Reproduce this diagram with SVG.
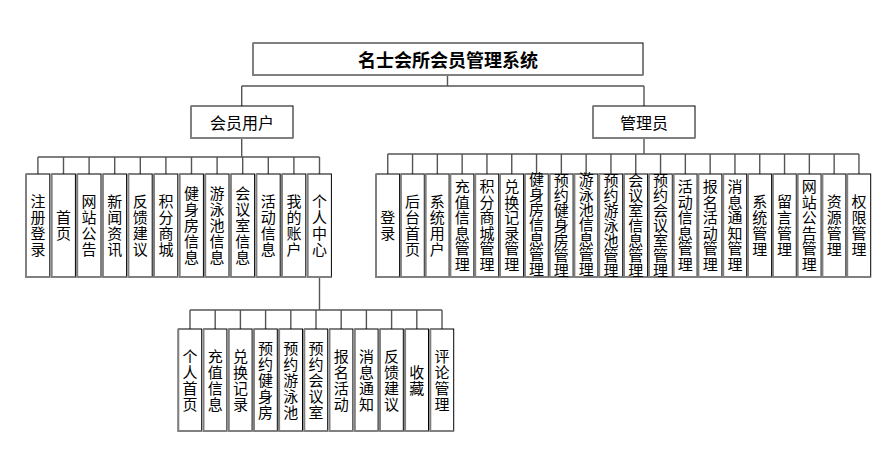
<svg xmlns="http://www.w3.org/2000/svg" width="885" height="474" viewBox="0 0 885 474">
<style>
.b{fill:#fff;stroke:#000;stroke-width:1}
.s{fill:none;stroke:#808080;stroke-width:2}
.c{fill:none;stroke:#555;stroke-width:1.4}
text{font-family:"Noto Sans CJK SC","Liberation Sans",sans-serif;fill:#000}
.v{font-size:15px;text-anchor:middle;writing-mode:vertical-rl;letter-spacing:1px}
.v7{letter-spacing:0}
.v6{letter-spacing:0.5px}
.t{font-size:18px;font-weight:bold;text-anchor:middle;dominant-baseline:central}
.m{font-size:16px;text-anchor:middle;dominant-baseline:central}
</style>
<rect width="885" height="474" fill="#fff"/>
<g id="connectors" class="c">
<path d="M447.5 75V86M241.7 86H644M241.7 86V106M644 86V106"/>
<path d="M241.7 138V157M37.9 157H319.5M37.9 157V174M63.5 157V174M89.1 157V174M114.7 157V174M140.3 157V174M165.9 157V174M191.5 157V174M217.1 157V174M242.7 157V174M268.3 157V174M293.9 157V174M319.5 157V174"/>
<path d="M644 138V154M387.75 154H858.95M387.75 154V174M412.55 154V174M437.35 154V174M462.15 154V174M486.95 154V174M511.75 154V174M536.55 154V174M561.35 154V174M586.15 154V174M610.95 154V174M635.75 154V174M660.55 154V174M685.35 154V174M710.15 154V174M734.95 154V174M759.75 154V174M784.55 154V174M809.35 154V174M834.15 154V174M858.95 154V174"/>
<path d="M319.5 277V310M190 310H442M190 310V329M215.2 310V329M240.4 310V329M265.6 310V329M290.8 310V329M316 310V329M341.2 310V329M366.4 310V329M391.6 310V329M416.8 310V329M442 310V329"/>
</g>
<g id="root"><rect class="b" x="253" y="43" width="390" height="32"/><path class="s" d="M253 43V75H643"/><text class="t" x="448" y="59">名士会所会员管理系统</text></g>
<g id="member"><rect class="b" x="191" y="106" width="102" height="32"/><path class="s" d="M191 106V138H293"/><text class="m" x="242" y="122">会员用户</text></g>
<g id="admin"><rect class="b" x="593" y="106" width="102" height="32"/><path class="s" d="M593 106V138H695"/><text class="m" x="644" y="122">管理员</text></g>

<g id="m1"><rect class="b" x="26" y="174" width="23.8" height="103"/><path class="s" d="M26 174V277H49.8"/><text class="v" x="37.9" y="225.5">注册登录</text></g>
<g id="m2"><rect class="b" x="51.6" y="174" width="23.8" height="103"/><path class="s" d="M51.6 174V277H75.4"/><text class="v" x="63.5" y="225.5">首页</text></g>
<g id="m3"><rect class="b" x="77.2" y="174" width="23.8" height="103"/><path class="s" d="M77.2 174V277H101"/><text class="v" x="89.1" y="225.5">网站公告</text></g>
<g id="m4"><rect class="b" x="102.8" y="174" width="23.8" height="103"/><path class="s" d="M102.8 174V277H126.6"/><text class="v" x="114.7" y="225.5">新闻资讯</text></g>
<g id="m5"><rect class="b" x="128.4" y="174" width="23.8" height="103"/><path class="s" d="M128.4 174V277H152.2"/><text class="v" x="140.3" y="225.5">反馈建议</text></g>
<g id="m6"><rect class="b" x="154" y="174" width="23.8" height="103"/><path class="s" d="M154 174V277H177.8"/><text class="v" x="165.9" y="225.5">积分商城</text></g>
<g id="m7"><rect class="b" x="179.6" y="174" width="23.8" height="103"/><path class="s" d="M179.6 174V277H203.4"/><text class="v" x="191.5" y="225.5">健身房信息</text></g>
<g id="m8"><rect class="b" x="205.2" y="174" width="23.8" height="103"/><path class="s" d="M205.2 174V277H229"/><text class="v" x="217.1" y="225.5">游泳池信息</text></g>
<g id="m9"><rect class="b" x="230.8" y="174" width="23.8" height="103"/><path class="s" d="M230.8 174V277H254.6"/><text class="v" x="242.7" y="225.5">会议室信息</text></g>
<g id="m10"><rect class="b" x="256.4" y="174" width="23.8" height="103"/><path class="s" d="M256.4 174V277H280.2"/><text class="v" x="268.3" y="225.5">活动信息</text></g>
<g id="m11"><rect class="b" x="282" y="174" width="23.8" height="103"/><path class="s" d="M282 174V277H305.8"/><text class="v" x="293.9" y="225.5">我的账户</text></g>
<g id="m12"><rect class="b" x="307.6" y="174" width="23.8" height="103"/><path class="s" d="M307.6 174V277H331.4"/><text class="v" x="319.5" y="225.5">个人中心</text></g>

<g id="a1"><rect class="b" x="376" y="174" width="23.5" height="103"/><path class="s" d="M376 174V277H399.5"/><text class="v" x="387.75" y="225.5">登录</text></g>
<g id="a2"><rect class="b" x="400.8" y="174" width="23.5" height="103"/><path class="s" d="M400.8 174V277H424.3"/><text class="v" x="412.55" y="225.5">后台首页</text></g>
<g id="a3"><rect class="b" x="425.6" y="174" width="23.5" height="103"/><path class="s" d="M425.6 174V277H449.1"/><text class="v" x="437.35" y="225.5">系统用户</text></g>
<g id="a4"><rect class="b" x="450.4" y="174" width="23.5" height="103"/><path class="s" d="M450.4 174V277H473.9"/><text class="v v6" x="462.15" y="225.5">充值信息管理</text></g>
<g id="a5"><rect class="b" x="475.2" y="174" width="23.5" height="103"/><path class="s" d="M475.2 174V277H498.7"/><text class="v v6" x="486.95" y="225.5">积分商城管理</text></g>
<g id="a6"><rect class="b" x="500" y="174" width="23.5" height="103"/><path class="s" d="M500 174V277H523.5"/><text class="v v6" x="511.75" y="225.5">兑换记录管理</text></g>
<g id="a7"><rect class="b" x="524.8" y="174" width="23.5" height="103"/><path class="s" d="M524.8 174V277H548.3"/><text class="v v7" x="536.55" y="224.5">健身房信息管理</text></g>
<g id="a8"><rect class="b" x="549.6" y="174" width="23.5" height="103"/><path class="s" d="M549.6 174V277H573.1"/><text class="v v7" x="561.35" y="225.5">预约健身房管理</text></g>
<g id="a9"><rect class="b" x="574.4" y="174" width="23.5" height="103"/><path class="s" d="M574.4 174V277H597.9"/><text class="v v7" x="586.15" y="224.5">游泳池信息管理</text></g>
<g id="a10"><rect class="b" x="599.2" y="174" width="23.5" height="103"/><path class="s" d="M599.2 174V277H622.7"/><text class="v v7" x="610.95" y="225.5">预约游泳池管理</text></g>
<g id="a11"><rect class="b" x="624" y="174" width="23.5" height="103"/><path class="s" d="M624 174V277H647.5"/><text class="v v7" x="635.75" y="225.5">会议室信息管理</text></g>
<g id="a12"><rect class="b" x="648.8" y="174" width="23.5" height="103"/><path class="s" d="M648.8 174V277H672.3"/><text class="v v7" x="660.55" y="225.5">预约会议室管理</text></g>
<g id="a13"><rect class="b" x="673.6" y="174" width="23.5" height="103"/><path class="s" d="M673.6 174V277H697.1"/><text class="v v6" x="685.35" y="225.5">活动信息管理</text></g>
<g id="a14"><rect class="b" x="698.4" y="174" width="23.5" height="103"/><path class="s" d="M698.4 174V277H721.9"/><text class="v v6" x="710.15" y="225.5">报名活动管理</text></g>
<g id="a15"><rect class="b" x="723.2" y="174" width="23.5" height="103"/><path class="s" d="M723.2 174V277H746.7"/><text class="v v6" x="734.95" y="225.5">消息通知管理</text></g>
<g id="a16"><rect class="b" x="748" y="174" width="23.5" height="103"/><path class="s" d="M748 174V277H771.5"/><text class="v" x="759.75" y="225.5">系统管理</text></g>
<g id="a17"><rect class="b" x="772.8" y="174" width="23.5" height="103"/><path class="s" d="M772.8 174V277H796.3"/><text class="v" x="784.55" y="225.5">留言管理</text></g>
<g id="a18"><rect class="b" x="797.6" y="174" width="23.5" height="103"/><path class="s" d="M797.6 174V277H821.1"/><text class="v v6" x="809.35" y="225.5">网站公告管理</text></g>
<g id="a19"><rect class="b" x="822.4" y="174" width="23.5" height="103"/><path class="s" d="M822.4 174V277H845.9"/><text class="v" x="834.15" y="225.5">资源管理</text></g>
<g id="a20"><rect class="b" x="847.2" y="174" width="23.5" height="103"/><path class="s" d="M847.2 174V277H870.7"/><text class="v" x="858.95" y="225.5">权限管理</text></g>

<g id="p1"><rect class="b" x="178.3" y="329" width="23.4" height="102"/><path class="s" d="M178.3 329V431H201.7"/><text class="v" x="190" y="380.5">个人首页</text></g>
<g id="p2"><rect class="b" x="203.5" y="329" width="23.4" height="102"/><path class="s" d="M203.5 329V431H226.9"/><text class="v" x="215.2" y="380.5">充值信息</text></g>
<g id="p3"><rect class="b" x="228.7" y="329" width="23.4" height="102"/><path class="s" d="M228.7 329V431H252.1"/><text class="v" x="240.4" y="380.5">兑换记录</text></g>
<g id="p4"><rect class="b" x="253.9" y="329" width="23.4" height="102"/><path class="s" d="M253.9 329V431H277.3"/><text class="v" x="265.6" y="380.5">预约健身房</text></g>
<g id="p5"><rect class="b" x="279.1" y="329" width="23.4" height="102"/><path class="s" d="M279.1 329V431H302.5"/><text class="v" x="290.8" y="380.5">预约游泳池</text></g>
<g id="p6"><rect class="b" x="304.3" y="329" width="23.4" height="102"/><path class="s" d="M304.3 329V431H327.7"/><text class="v" x="316" y="380.5">预约会议室</text></g>
<g id="p7"><rect class="b" x="329.5" y="329" width="23.4" height="102"/><path class="s" d="M329.5 329V431H352.9"/><text class="v" x="341.2" y="380.5">报名活动</text></g>
<g id="p8"><rect class="b" x="354.7" y="329" width="23.4" height="102"/><path class="s" d="M354.7 329V431H378.1"/><text class="v" x="366.4" y="380.5">消息通知</text></g>
<g id="p9"><rect class="b" x="379.9" y="329" width="23.4" height="102"/><path class="s" d="M379.9 329V431H403.3"/><text class="v" x="391.6" y="380.5">反馈建议</text></g>
<g id="p10"><rect class="b" x="405.1" y="329" width="23.4" height="102"/><path class="s" d="M405.1 329V431H428.5"/><text class="v" x="416.8" y="380.5">收藏</text></g>
<g id="p11"><rect class="b" x="430.3" y="329" width="23.4" height="102"/><path class="s" d="M430.3 329V431H453.7"/><text class="v" x="442" y="380.5">评论管理</text></g>
</svg>
